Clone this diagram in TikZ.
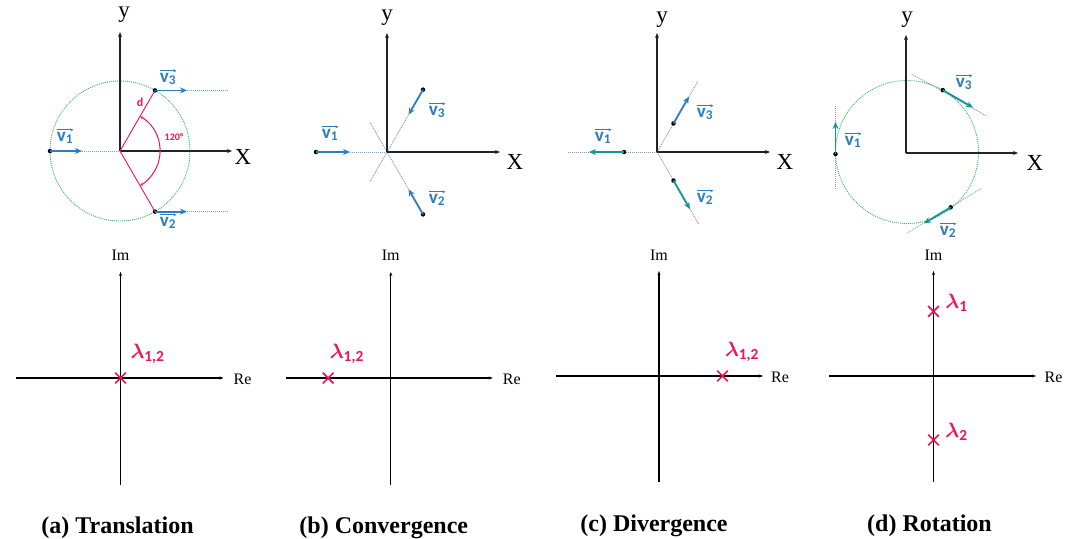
\documentclass[tikz,border=0pt]{standalone}
\usepackage{fontspec}
\usepackage{amsmath}
\usepackage{bm}
\setmainfont{Liberation Serif}
\setsansfont{Carlito}
\usetikzlibrary{arrows.meta,calc,shapes.misc}
\definecolor{vblue}{RGB}{46,125,190}
\definecolor{vteal}{RGB}{20,150,150}
\definecolor{cgreen}{RGB}{60,185,110}
\definecolor{lpink}{RGB}{240,20,90}
\definecolor{axgray}{RGB}{35,35,35}
\definecolor{dotgray}{RGB}{140,150,165}
\definecolor{dotblue}{RGB}{110,165,215}
\newcommand{\vlab}[1]{v\textsubscript{#1}}
\newcommand{\lamb}[1]{$\bm{\lambda}_{\text{\sffamily\bfseries #1}}$}
\tikzset{
  axis/.style={draw=axgray, line width=1.6pt, -{Stealth[length=5pt,width=4pt]}},
  raxis/.style={draw=black, line width=1.1pt, -{Stealth[length=4pt,width=3pt]}},
  vec/.style={line width=1.8pt, -{Stealth[length=7pt,width=6pt]}},
  dotln/.style={line width=0.9pt, dash pattern=on 1pt off 1pt},
  pt/.style={circle, fill=black, inner sep=0pt, minimum size=4.5pt},
  vl/.style={text=vblue, font=\sffamily\bfseries\fontsize{19}{19}\selectfont, inner sep=0pt},
  ovarr/.style={draw=vblue, line width=0.8pt, -{Stealth[length=3pt,width=3pt]}},
  axl/.style={font=\fontsize{23}{23}\selectfont, inner sep=0pt},
  iml/.style={font=\fontsize{16}{16}\selectfont, inner sep=0pt},
  lam/.style={text=lpink, font=\fontsize{22}{22}\selectfont, inner sep=0pt},
  captxt/.style={font=\fontsize{24}{24}\selectfont\bfseries, inner sep=0pt},
  xmark/.style={draw=lpink, cross out, line width=1.7pt, minimum size=9pt, inner sep=0pt},
  redl/.style={text=lpink, font=\sffamily\bfseries, inner sep=0pt}
}
\newcommand{\ovarrow}[1]{\draw[ovarr] ([yshift=2pt]#1.north west) -- ([yshift=2pt]#1.north east);}
\begin{document}
\begin{tikzpicture}[x=1pt,y=-1pt]
\useasboundingbox (0,0) rectangle (1073,538);
\fill[white] (0,0) rectangle (1073,538);

% ================= (a) top =================
\begin{scope}[shift={(120,151)},y=1pt]
\coordinate (ao) at (0,0);
\coordinate (ayt) at (0,119);
\coordinate (axr) at (112,0);
\draw[cgreen,dotln] (ao) circle[radius=70pt];
\draw[axis] (ao) -- (ayt);
\draw[axis] (ao) -- (axr);
\node[axl] (ay) at (4,136) {y};
\node[axl] (ax) at (123,-6) {X};
\coordinate (av1e) at (-38,0);
\coordinate (av3e) at (67,60.6);
\coordinate (av2e) at (67,-60.6);
\coordinate (av3f) at (108,60.6);
\coordinate (av2f) at (108,-60.6);
\node[pt] (av1) at (-70,0) {};
\node[pt] (av3) at (35,60.6) {};
\node[pt] (av2) at (35,-60.6) {};
\draw[dotblue,dotln] (av1e) -- (ao);
\draw[dotblue,dotln] (av3e) -- (av3f);
\draw[dotblue,dotln] (av2e) -- (av2f);
\draw[lpink,line width=0.9pt] (ao) -- (av3.center);
\draw[lpink,line width=0.9pt] (ao) -- (av2.center);
\coordinate (aarc) at (60:40);
\draw[lpink, line width=1pt, {Stealth[length=3.5pt,width=3pt]}-{Stealth[length=3.5pt,width=3pt]}] (aarc) arc[start angle=60,end angle=-60,radius=40pt];
\node[redl, font=\sffamily\bfseries\fontsize{12}{12}\selectfont] (ad) at (20,49) {d};
\node[redl, font=\sffamily\bfseries\fontsize{10}{10}\selectfont] (a120) at (54,14) {120°};
\draw[vec,vblue] (av1.center) -- (av1e);
\draw[vec,vblue] (av3.center) -- (av3e);
\draw[vec,vblue] (av2.center) -- (av2e);
\node[vl] (al1) at (-55,13) {\vlab{1}};
\node[vl] (al3) at (48,72) {\vlab{3}};
\node[vl] (al2) at (48,-72) {\vlab{2}};
\ovarrow{al1}\ovarrow{al3}\ovarrow{al2}
\end{scope}

% ================= (b) top =================
\begin{scope}[shift={(387,152)},y=1pt]
\coordinate (bo) at (0,0);
\coordinate (byt) at (0,119);
\coordinate (bxr) at (113,0);
\coordinate (bd3) at (240:34);
\coordinate (bd2) at (120:34);
\coordinate (bv1e) at (-37,0);
\coordinate (bv3e) at (60:43);
\coordinate (bv2e) at (-60:43);
\draw[dotgray,dotln] (bv3e) -- (bd3);
\draw[dotgray,dotln] (bv2e) -- (bd2);
\draw[dotblue,dotln] (bv1e) -- (bo);
\draw[axis] (bo) -- (byt);
\draw[axis] (bo) -- (bxr);
\node[axl] (by) at (0,134) {y};
\node[axl] (bx) at (128,-10) {X};
\node[pt] (bv1) at (-71,0) {};
\node[pt] (bv3) at (60:72) {};
\node[pt] (bv2) at (-60:72) {};
\draw[vec,vblue] (bv1.center) -- (bv1e);
\draw[vec,vblue] (bv3.center) -- (bv3e);
\draw[vec,vblue] (bv2.center) -- (bv2e);
\node[vl] (bl1) at (-57,17) {\vlab{1}};
\node[vl] (bl3) at (50,40) {\vlab{3}};
\node[vl] (bl2) at (50,-48) {\vlab{2}};
\ovarrow{bl1}\ovarrow{bl3}\ovarrow{bl2}
\end{scope}

% ================= (c) top =================
\begin{scope}[shift={(657,152)},y=1pt]
\coordinate (co) at (0,0);
\coordinate (cyt) at (0,119);
\coordinate (cxr) at (113,0);
\coordinate (cd1) at (-89,0);
\coordinate (cd3) at (60:82);
\coordinate (cd2) at (-60:84);
\draw[dotgray,dotln] (co) -- (cd1);
\draw[dotgray,dotln] (co) -- (cd3);
\draw[dotgray,dotln] (co) -- (cd2);
\draw[axis] (co) -- (cyt);
\draw[axis] (co) -- (cxr);
\node[axl] (cy) at (5,132) {y};
\node[axl] (cx) at (128,-10) {X};
\coordinate (cv1e) at (-68,0);
\coordinate (cv3e) at (60:64);
\coordinate (cv2e) at (-60:66);
\node[pt] (cv1) at (-33,0) {};
\node[pt] (cv3) at (60:33) {};
\node[pt] (cv2) at (-60:33) {};
\draw[vec,vteal] (cv1.center) -- (cv1e);
\draw[vec,vblue] (cv3.center) -- (cv3e);
\draw[vec,vteal] (cv2.center) -- (cv2e);
\node[vl] (cl1) at (-54,14) {\vlab{1}};
\node[vl] (cl3) at (48,38) {\vlab{3}};
\node[vl] (cl2) at (48,-47) {\vlab{2}};
\ovarrow{cl1}\ovarrow{cl3}\ovarrow{cl2}
\end{scope}

% ================= (d) top =================
\begin{scope}[shift={(906,153)},y=1pt]
\coordinate (do) at (0,0);
\coordinate (dc) at (1,1);
\coordinate (dyt) at (0,118);
\coordinate (dxr) at (112,0);
\draw[cgreen,dotln] (dc) circle[radius=71.5pt];
\coordinate (dt1a) at (-70.5,47);
\coordinate (dt1b) at (-70.5,-37);
\coordinate (dt3a) at (5.7,79);
\coordinate (dt3b) at (80.7,37);
\coordinate (dt2a) at (0.7,-80.3);
\coordinate (dt2b) at (75.7,-35.3);
\draw[dotgray,dotln] (dt1a) -- (dt1b);
\draw[dotgray,dotln] (dt3a) -- (dt3b);
\draw[dotgray,dotln] (dt2a) -- (dt2b);
\draw[axis] (do) -- (dyt);
\draw[axis] (do) -- (dxr);
\node[axl] (dy) at (1,133) {y};
\node[axl] (dx) at (129,-10) {X};
\coordinate (dv1e) at (-70.5,31);
\coordinate (dv3e) at (67,45.4);
\coordinate (dv2e) at (18,-70.3);
\node[pt] (dv1) at (-70.5,-1) {};
\node[pt] (dv3) at (36.75,62.9) {};
\node[pt] (dv2) at (44.7,-54.3) {};
\draw[vec,vteal] (dv1.center) -- (dv1e);
\draw[vec,vteal] (dv3.center) -- (dv3e);
\draw[vec,vteal] (dv2.center) -- (dv2e);
\node[vl] (dl1) at (-53,11) {\vlab{1}};
\node[vl] (dl3) at (58,69) {\vlab{3}};
\node[vl] (dl2) at (42,-79) {\vlab{2}};
\ovarrow{dl1}\ovarrow{dl3}\ovarrow{dl2}
\end{scope}

% ================= (a) bottom =================
\begin{scope}[shift={(120.5,378)},y=1pt]
\coordinate (Ao) at (0,0);
\coordinate (Ab) at (0,-107);
\coordinate (At) at (0,106);
\coordinate (Al) at (-105,0);
\coordinate (Ar) at (103,0);
\draw[raxis] (Ab) -- (At);
\draw[raxis] (Al) -- (Ar);
\node[iml] (Aim) at (0,122.5) {Im};
\node[iml] (Are) at (122,-1.5) {Re};
\node[xmark] (Ax) at (0,0) {};
\node[lam] (Alam) at (27,24) {\lamb{1,2}};
\node[captxt] (Acap) at (-3,-150) {(a) Translation};
\end{scope}

% ================= (b) bottom =================
\begin{scope}[shift={(390.8,378)},y=1pt]
\coordinate (Bo) at (0,0);
\coordinate (Bb) at (0,-107);
\coordinate (Bt) at (0,106);
\coordinate (Bl) at (-105,0);
\coordinate (Br) at (102,0);
\draw[raxis] (Bb) -- (Bt);
\draw[raxis] (Bl) -- (Br);
\node[iml] (Bim) at (0,122.5) {Im};
\node[iml] (Bre) at (121,-1.5) {Re};
\node[xmark] (Bx) at (-62.6,0) {};
\node[lam] (Blam) at (-44,24) {\lamb{1,2}};
\node[captxt] (Bcap) at (-7,-150) {(b) Convergence};
\end{scope}

% ================= (c) bottom =================
\begin{scope}[shift={(659,376)},y=1pt]
\coordinate (Co) at (0,0);
\coordinate (Cb) at (0,-106);
\coordinate (Ct) at (0,105);
\coordinate (Cl) at (-103,0);
\coordinate (Cr) at (104,0);
\draw[raxis] (Cb) -- (Ct);
\draw[raxis] (Cl) -- (Cr);
\node[iml] (Cim) at (0,120.5) {Im};
\node[iml] (Cre) at (121,-1.5) {Re};
\node[xmark] (Cx) at (63.5,0) {};
\node[lam] (Clam) at (83,24) {\lamb{1,2}};
\node[captxt] (Ccap) at (-5,-150) {(c) Divergence};
\end{scope}

% ================= (d) bottom =================
\begin{scope}[shift={(933.5,376)},y=1pt]
\coordinate (Do) at (0,0);
\coordinate (Db) at (0,-106);
\coordinate (Dt) at (0,105);
\coordinate (Dl) at (-104.5,0);
\coordinate (Dr) at (102.5,0);
\draw[raxis] (Db) -- (Dt);
\draw[raxis] (Dl) -- (Dr);
\node[iml] (Dim) at (0,120.5) {Im};
\node[iml] (Dre) at (120,-1.5) {Re};
\node[xmark] (Dx1) at (0,64.6) {};
\node[xmark] (Dx2) at (0,-64) {};
\node[lam] (Dlam1) at (23,73) {\lamb{1}};
\node[lam] (Dlam2) at (23,-56) {\lamb{2}};
\node[captxt] (Dcap) at (-4,-150) {(d) Rotation};
\end{scope}
\end{tikzpicture}
\end{document}
